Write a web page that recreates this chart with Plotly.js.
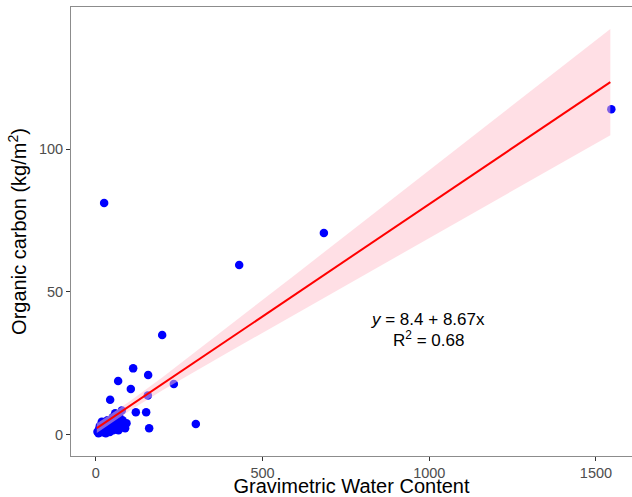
<!DOCTYPE html>
<html>
<head>
<meta charset="utf-8">
<script src="https://cdn.plot.ly/plotly-3.0.1.min.js"></script>
<style>html,body{margin:0;padding:0;background:#fff;}#chart{width:632px;height:497px;}</style>
</head>
<body>
<div id="chart"></div>
<script>
// Observed points: gravimetric water content vs organic carbon (kg/m2)
const waterContent = [1546, 684, 430, 199, 25, 300, 234, 112, 157, 67, 105, 156, 43, 120, 151, 160, 88, 78, 58,
  5, 8, 10, 12, 15, 18, 20, 22, 25, 28, 30, 33, 35, 38, 40, 42, 45, 48, 50, 52, 55, 58, 60, 63, 65, 68, 70, 75, 80, 85, 92];
const organicCarbon = [114.0, 70.6, 59.4, 34.9, 81.1, 3.7, 17.7, 23.2, 20.9, 18.8, 16.0, 13.7, 12.2, 7.8, 7.8, 2.2, 2.2, 8.4, 7.5,
  1.0, 0.5, 2.0, 3.0, 1.5, 4.5, 0.8, 2.5, 1.2, 3.5, 0.5, 2.0, 5.0, 1.8, 3.0, 0.9, 4.0, 2.5, 6.0, 1.5, 3.3, 5.5, 2.8, 7.0, 4.5, 1.5, 6.5, 3.5, 5.0, 2.5, 4.0];

// Fitted line and 95% confidence band
const fitX = [3, 1543];
const fitY = [2.27, 123.5];
const bandX = [3, 100, 200, 400, 600, 800, 1000, 1200, 1400, 1543];
const bandLow = [0.6, 8.3, 15.5, 29.0, 42.4, 55.6, 68.9, 82.2, 95.4, 104.9];
const bandHigh = [3.9, 11.5, 20.1, 38.0, 56.2, 74.4, 92.6, 110.8, 129.0, 142.1];

const xTicks = [0, 500, 1000, 1500];
const yTicks = [0, 50, 100];

const eqLine = '<i>y</i> = 8.4 + 8.67x';
const r2Line = 'R<sup>2</sup> = 0.68';

const fontFam = 'Liberation Sans, Arial, Helvetica, sans-serif';

const traces = [
  {
    x: waterContent, y: organicCarbon, type: 'scatter', mode: 'markers',
    marker: {color: '#0000FF', size: 8.5, line: {width: 0}},
    hoverinfo: 'skip', showlegend: false
  },
  {
    x: bandX.concat(bandX.slice().reverse()),
    y: bandHigh.concat(bandLow.slice().reverse()),
    type: 'scatter', mode: 'lines', fill: 'toself',
    fillcolor: 'rgba(255,192,203,0.5)', line: {width: 0, color: 'rgba(0,0,0,0)'},
    hoverinfo: 'skip', showlegend: false
  },
  {
    x: fitX, y: fitY, type: 'scatter', mode: 'lines',
    line: {color: '#FF0000', width: 2},
    hoverinfo: 'skip', showlegend: false
  }
];

const layout = {
  width: 632, height: 497,
  margin: {l: 71, r: 0, t: 7, b: 41, pad: 0},
  paper_bgcolor: '#fff', plot_bgcolor: '#fff',
  font: {family: fontFam, color: '#000'},
  showlegend: false,
  xaxis: {
    range: [-74.4, 1608], tickvals: xTicks, ticktext: xTicks.map(String),
    showgrid: false, zeroline: false, showline: true, linecolor: '#8c8c8c', linewidth: 1, mirror: true,
    ticks: 'outside', ticklen: 4, tickcolor: '#333', tickwidth: 1,
    tickfont: {size: 14.5, color: '#4D4D4D', family: fontFam},
    title: {text: 'Gravimetric Water Content', font: {size: 20, color: '#000', family: fontFam}, standoff: 1},
    automargin: false
  },
  yaxis: {
    range: [-7.5, 149.8], tickvals: yTicks, ticktext: yTicks.map(String),
    showgrid: false, zeroline: false, showline: true, linecolor: '#8c8c8c', linewidth: 1, mirror: false,
    ticks: 'outside', ticklen: 4, tickcolor: '#333', tickwidth: 1,
    tickfont: {size: 14.5, color: '#4D4D4D', family: fontFam},
    title: {text: 'Organic carbon (kg/m<sup>2</sup>)', font: {size: 20, color: '#000', family: fontFam}, standoff: 6},
    automargin: false
  },
  annotations: [
    {x: 996, y: 40.2, xref: 'x', yref: 'y', text: eqLine, showarrow: false,
     font: {size: 17, color: '#000', family: fontFam}},
    {x: 999, y: 33.4, xref: 'x', yref: 'y', text: r2Line, showarrow: false,
     font: {size: 17, color: '#000', family: fontFam}}
  ]
};

Plotly.newPlot('chart', traces, layout, {displayModeBar: false, staticPlot: true});
</script>
</body>
</html>
